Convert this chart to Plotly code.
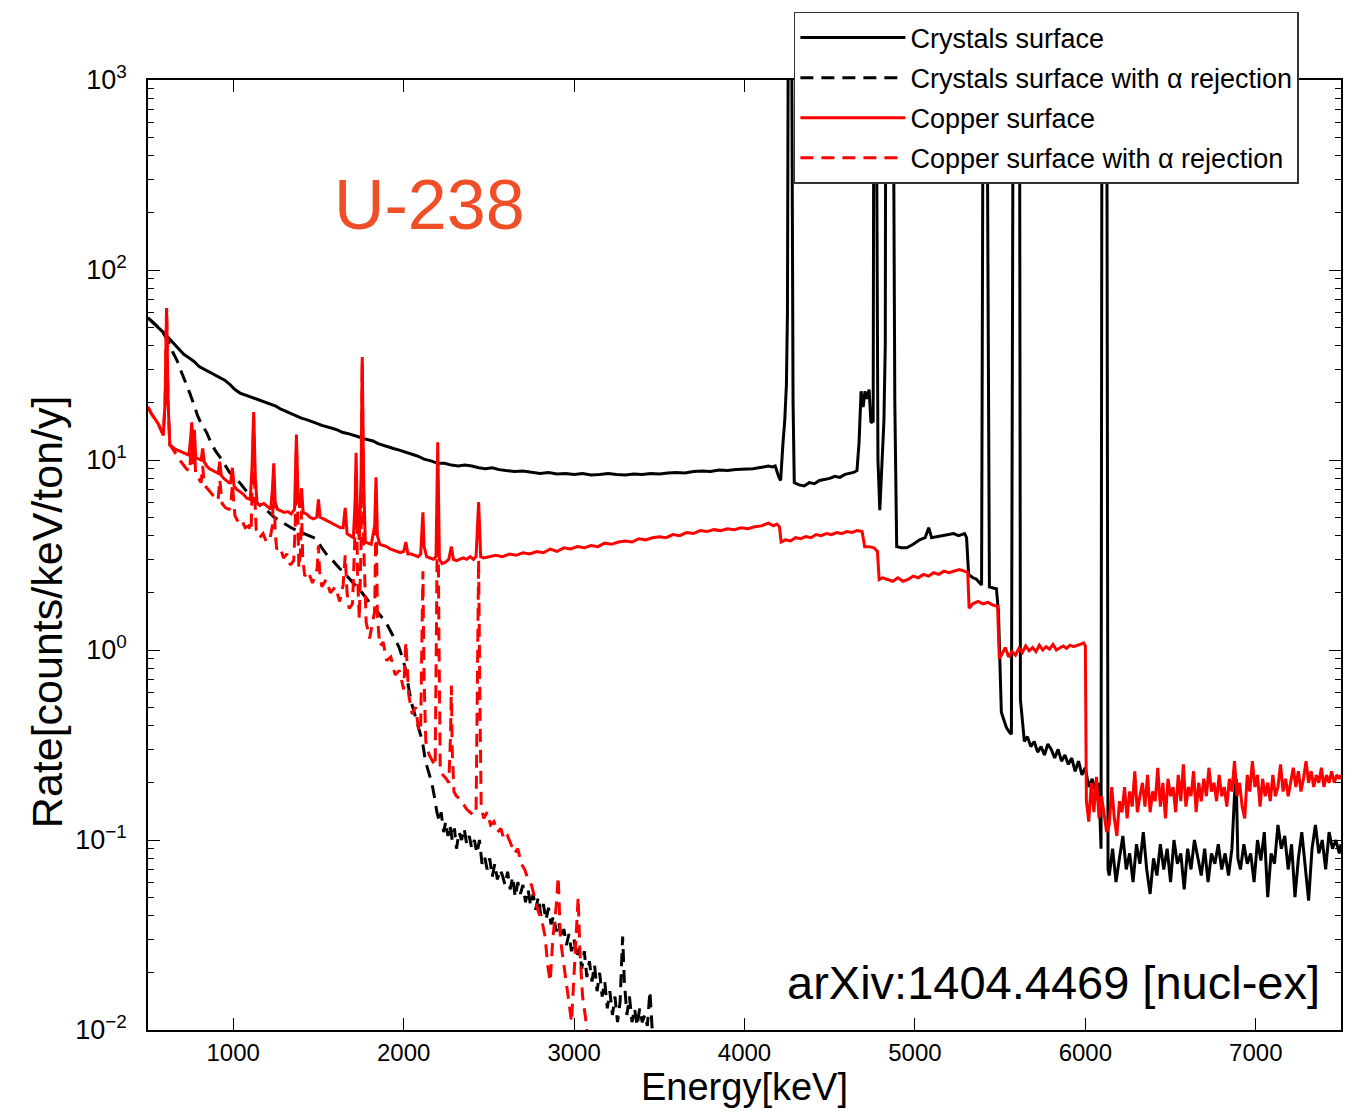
import plotly.graph_objects as go

# ---------------- Crystals surface (solid black) ----------------
crys_E = [500, 530, 560, 590, 620, 650, 680, 710, 740, 770, 800, 830, 860, 890, 920, 950, 980,
          1010, 1040, 1070, 1100, 1130, 1160, 1190, 1220, 1250, 1280, 1310, 1340, 1370, 1400,
          1430, 1460, 1490, 1520, 1550, 1580, 1610, 1640, 1670, 1700, 1730, 1760, 1790, 1820,
          1850, 1880, 1910, 1940, 1970, 2000, 2040, 2080, 2120, 2160, 2200, 2240, 2280, 2320,
          2360, 2400, 2440, 2480, 2520, 2560, 2600, 2650, 2700, 2750, 2800, 2850, 2900, 2950,
          3000, 3050, 3100, 3150, 3200, 3250, 3300, 3350, 3400, 3450, 3500, 3550, 3600, 3650,
          3700, 3750, 3800, 3850, 3900, 3950, 4000, 4050, 4100, 4140, 4165, 4180, 4200, 4212,
          4225, 4236, 4246, 4252, 4258, 4275, 4285, 4292, 4320, 4350, 4380, 4410, 4440, 4470,
          4500, 4530, 4560, 4590, 4620, 4640, 4660, 4672, 4684, 4696, 4707, 4719, 4731, 4742,
          4755, 4760, 4771, 4783, 4794, 4806, 4818, 4826, 4830, 4870, 4882, 4893, 4920, 4952,
          4990, 5028, 5060, 5081, 5098, 5128, 5169, 5200, 5227, 5256, 5291, 5303, 5315, 5340,
          5361, 5391, 5402, 5420, 5437, 5460, 5478, 5490, 5496, 5507, 5525, 5537, 5554, 5566,
          5578, 5613, 5619, 5631, 5642, 5660, 5680, 5700, 5720, 5740, 5760, 5780, 5800, 5820,
          5840, 5860, 5880, 5900, 5920, 5940, 5960, 5980, 6000, 6020, 6040, 6060, 6075, 6085,
          6092, 6098, 6125, 6133, 6140, 6160, 6180, 6200, 6220, 6240, 6260, 6280, 6300, 6320,
          6340, 6360, 6380, 6400, 6420, 6440, 6460, 6480, 6500, 6520, 6540, 6560, 6580, 6600,
          6620, 6640, 6660, 6680, 6700, 6720, 6740, 6760, 6780, 6800, 6820, 6840, 6860, 6875,
          6885, 6895, 6910, 6930, 6950, 6970, 6990, 7010, 7030, 7050, 7070, 7090, 7110, 7130,
          7150, 7170, 7190, 7210, 7230, 7250, 7270, 7290, 7310, 7330, 7350, 7370, 7390, 7410,
          7430, 7450, 7470, 7490, 7500]
crys_R = [56, 53, 50, 47, 44, 41, 38.5, 36, 34.5, 33, 31, 30, 29, 28, 27, 26.3, 25,
          23.5, 22.5, 22, 21.5, 21, 20.5, 20, 19.5, 19.2, 18.5, 18, 17.6, 17, 16.6,
          16.3, 16, 15.6, 15.2, 15, 14.7, 14.4, 14, 13.8, 13.6, 13.3, 13, 12.8, 12.6,
          12.2, 12, 11.8, 11.5, 11.3, 11.1, 10.8, 10.5, 10.1, 9.9, 9.6, 9.6, 9.4, 9.3,
          9.4, 9.3, 9.1, 9.0, 9.1, 8.9, 8.8, 8.7, 8.75, 8.6, 8.5, 8.6, 8.45, 8.5,
          8.4, 8.5, 8.35, 8.4, 8.5, 8.4, 8.35, 8.45, 8.4, 8.5, 8.45, 8.55, 8.6, 8.55,
          8.7, 8.75, 8.7, 8.85, 8.8, 8.9, 8.95, 9.0, 9.15, 9.3, 9.2, 9.3, 8.2, 7.8,
          12, 16, 25, 60, 5000, 5000, 20, 7.6, 7.4, 7.3, 7.6, 7.5, 7.8, 7.9,
          8.0, 8.2, 8.1, 8.4, 8.5, 8.6, 8.8, 12.3, 23, 19, 23, 21, 23.5, 15.7,
          16, 5000, 5000, 10, 5.45, 10, 16, 40, 5000, 5000, 20, 3.5, 3.45, 3.45,
          3.6, 3.8, 3.9, 4.4, 3.9, 3.95, 4.0, 4.05, 4.1, 4.0, 4.1, 3.9, 2.5, 2.4,
          2.36, 2.2, 5000, 5000, 2.15, 2.12, 2.1, 1.6, 1.0, 0.47, 0.42, 0.39, 0.37, 0.36,
          5000, 5000, 0.55, 0.40, 0.33, 0.35, 0.31, 0.33, 0.29, 0.31, 0.28, 0.32, 0.30, 0.27,
          0.30, 0.26, 0.28, 0.25, 0.27, 0.23, 0.26, 0.22, 0.24, 0.19, 0.21, 0.18, 0.2, 0.14,
          0.09, 5000, 5000, 0.07, 0.065, 0.09, 0.06, 0.08, 0.105, 0.07, 0.085, 0.06, 0.095, 0.075,
          0.11, 0.07, 0.052, 0.08, 0.065, 0.095, 0.07, 0.09, 0.06, 0.1, 0.075, 0.085, 0.055, 0.09,
          0.07, 0.1, 0.08, 0.065, 0.09, 0.06, 0.085, 0.075, 0.095, 0.07, 0.085, 0.065, 0.09, 0.17,
          0.21, 0.08, 0.07, 0.095, 0.075, 0.085, 0.06, 0.1, 0.078, 0.11, 0.05, 0.085, 0.075, 0.12,
          0.09, 0.105, 0.07, 0.095, 0.05, 0.08, 0.11, 0.075, 0.048, 0.09, 0.12, 0.085, 0.1, 0.07,
          0.11, 0.09, 0.1, 0.085, 0.095]

# ---------------- Crystals surface with alpha rejection (dashed black) ----------------
crysA_E = [500, 530, 560, 590, 620, 645, 670, 690, 715, 745, 770, 792, 815, 845, 870, 895, 921,
           950, 979, 1008, 1038, 1075, 1113, 1155, 1195, 1240, 1289, 1340, 1388, 1440, 1487,
           1515, 1546, 1585, 1622, 1660, 1698, 1728, 1756, 1785, 1815, 1855, 1896, 1935, 1972,
           1995, 2013, 2031, 2048, 2068, 2089, 2110, 2128, 2147, 2165, 2180, 2195, 2210, 2220,
           2235, 2247, 2260, 2272, 2285, 2298, 2310, 2325, 2340, 2355, 2370, 2385, 2400, 2415,
           2430, 2445, 2460, 2475, 2490, 2505, 2520, 2535, 2550, 2565, 2580, 2595, 2610, 2625,
           2640, 2655, 2670, 2685, 2700, 2715, 2730, 2745, 2760, 2775, 2790, 2805, 2820, 2835,
           2850, 2865, 2880, 2895, 2910, 2925, 2940, 2955, 2970, 2985, 3000, 3015, 3030, 3045,
           3060, 3075, 3090, 3105, 3120, 3135, 3150, 3165, 3180, 3195, 3210, 3225, 3240, 3255,
           3270, 3285, 3295, 3310, 3325, 3340, 3355, 3370, 3385, 3400, 3415, 3430, 3445, 3460,
           3480]
crysA_R = [56, 53, 50, 46.5, 42, 37, 33.5, 30, 26.5, 22.5, 19.5, 17, 15.4, 13.9, 12.3, 11.2, 10.4,
           9.4, 8.6, 8.1, 7.6, 6.9, 6.2, 5.8, 5.45, 5.0, 4.7, 4.4, 4.2, 4.0, 3.85,
           3.5, 3.2, 2.95, 2.7, 2.5, 2.3, 2.15, 2.0, 1.85, 1.7, 1.55, 1.4, 1.2, 1.04,
           0.9, 0.78, 0.62, 0.52, 0.45, 0.38, 0.33, 0.26, 0.23, 0.2, 0.17, 0.14, 0.125, 0.14,
           0.11, 0.125, 0.105, 0.12, 0.1, 0.115, 0.09, 0.11, 0.1, 0.115, 0.095, 0.105, 0.09, 0.1,
           0.085, 0.1, 0.075, 0.082, 0.07, 0.08, 0.064, 0.075, 0.062, 0.07, 0.065, 0.058, 0.068, 0.055,
           0.064, 0.05, 0.06, 0.052, 0.058, 0.047, 0.055, 0.045, 0.052, 0.043, 0.05, 0.04, 0.046, 0.038,
           0.044, 0.036, 0.04, 0.033, 0.037, 0.03, 0.034, 0.028, 0.032, 0.026, 0.03, 0.024, 0.027, 0.021,
           0.026, 0.019, 0.023, 0.018, 0.022, 0.016, 0.02, 0.015, 0.018, 0.013, 0.016, 0.012, 0.015, 0.011,
           0.014, 0.031, 0.018, 0.012, 0.015, 0.011, 0.013, 0.0105, 0.013, 0.011, 0.012, 0.0105, 0.016, 0.0095,
           0.008]

# ---------------- Copper surface (solid red) ----------------
cop_E = [500, 520, 540, 560, 575, 590, 600, 609, 618, 628, 640, 660, 680, 700, 720, 740, 750,
         757, 764, 772, 780, 800, 812, 821, 830, 845, 860, 880, 900, 912, 921, 930, 945, 960,
         975, 985, 995, 1005, 1020, 1040, 1060, 1080, 1100, 1110, 1120, 1130, 1140, 1160, 1180,
         1200, 1220, 1230, 1238, 1246, 1260, 1280, 1300, 1320, 1340, 1360, 1371, 1380, 1390,
         1401, 1410, 1430, 1450, 1470, 1490, 1500, 1510, 1530, 1550, 1570, 1590, 1610, 1630,
         1645, 1657, 1668, 1690, 1705, 1715, 1721, 1728, 1740, 1750, 1757, 1765, 1775, 1790,
         1810, 1830, 1838, 1846, 1860, 1880, 1900, 1920, 1940, 1960, 1980, 2000, 2013, 2025,
         2045, 2065, 2085, 2100, 2106, 2113, 2120, 2135, 2155, 2175, 2190, 2200, 2210, 2225,
         2245, 2265, 2280, 2292, 2310, 2330, 2350, 2370, 2390, 2410, 2425, 2440, 2452, 2470,
         2500, 2540, 2580, 2620, 2660, 2700, 2740, 2780, 2820, 2860, 2900, 2940, 2980, 3020,
         3060, 3100, 3140, 3180, 3220, 3260, 3300, 3340, 3380, 3420, 3460, 3500, 3540, 3580,
         3620, 3660, 3700, 3740, 3780, 3820, 3860, 3900, 3940, 3980, 4020, 4060, 4100, 4140,
         4170, 4190, 4205, 4215, 4240, 4270, 4300, 4330, 4360, 4390, 4420, 4450, 4480, 4510,
         4540, 4570, 4600, 4630, 4660, 4690, 4705, 4730, 4760, 4780, 4790, 4810, 4840, 4870,
         4900, 4930, 4960, 4990, 5020, 5050, 5080, 5110, 5140, 5170, 5200, 5230, 5260, 5290,
         5310, 5318, 5340, 5370, 5400, 5430, 5460, 5485, 5495, 5510, 5530, 5550, 5570, 5590,
         5610, 5630, 5650, 5670, 5690, 5710, 5730, 5750, 5770, 5790, 5810, 5830, 5850, 5870,
         5890, 5910, 5930, 5950, 5970, 5990, 6000, 6006, 6020, 6035, 6050, 6065, 6080, 6095,
         6110, 6125, 6140, 6155, 6170, 6185, 6200, 6215, 6230, 6245, 6260, 6275, 6290, 6305,
         6320, 6335, 6350, 6365, 6380, 6395, 6410, 6425, 6440, 6455, 6470, 6485, 6500, 6515,
         6530, 6545, 6560, 6575, 6590, 6605, 6620, 6635, 6650, 6665, 6680, 6695, 6710, 6725,
         6740, 6755, 6770, 6785, 6800, 6815, 6830, 6845, 6860, 6875, 6890, 6905, 6920, 6935,
         6950, 6965, 6980, 6995, 7010, 7025, 7040, 7055, 7070, 7085, 7100, 7115, 7130, 7145,
         7160, 7175, 7190, 7205, 7220, 7235, 7250, 7265, 7280, 7295, 7310, 7325, 7340, 7355,
         7370, 7385, 7400, 7415, 7430, 7445, 7460, 7475, 7490, 7500]
cop_R = [19, 17.5, 16.5, 15.5, 14.5, 13.5, 20, 63, 20, 12, 11.8, 11.4, 11.2, 11.0, 10.8, 10.6, 13,
         15.8, 11.5, 14.4, 10.3, 10.1, 10, 11.5, 9.8, 9.3, 9.0, 8.8, 8.6, 8.5, 9.8, 8.3, 8.0, 7.8,
         7.6, 7.6, 9.1, 7.3, 7.0, 6.8, 6.6, 6.3, 6.2, 9, 17.9, 8, 5.9, 5.8, 5.9,
         5.7, 5.5, 7, 9.6, 6, 5.5, 5.4, 5.3, 5.35, 5.2, 5.5, 13.6, 6.5, 5.6,
         7.1, 5.3, 5.2, 5.0, 4.9, 5.0, 6.2, 5.0, 4.9, 4.8, 4.7, 4.6, 4.5, 4.4,
         4.4, 5.6, 4.1, 4.0, 3.9, 6, 10.9, 5, 3.8, 8, 34.8, 8, 3.7, 3.65,
         3.6, 4.5, 8.1, 4, 3.6, 3.55, 3.5, 3.4, 3.35, 3.3, 3.25, 3.3, 3.7, 3.2,
         3.2, 3.15, 3.1, 3.2, 4.5, 5.3, 3.5, 3.1, 3.05, 3.0, 3.1, 12.4, 3.0, 2.85,
         2.9, 3.0, 3.5, 3.0, 2.95, 3.0, 3.05, 3.0, 3.1, 3.0, 3.1, 6.0, 3.1, 3.05,
         3.1, 3.15, 3.1, 3.2, 3.15, 3.25, 3.2, 3.3, 3.25, 3.4, 3.3, 3.45, 3.4, 3.5,
         3.45, 3.55, 3.5, 3.65, 3.6, 3.7, 3.75, 3.7, 3.85, 3.8, 3.9, 3.95, 3.9, 4.05,
         4.0, 4.15, 4.1, 4.25, 4.2, 4.3, 4.25, 4.35, 4.3, 4.4, 4.35, 4.45, 4.5, 4.65,
         4.5, 4.6, 4.45, 3.7, 3.8, 3.75, 3.9, 3.85, 3.95, 3.9, 4.05, 4.0, 4.1, 4.05,
         4.15, 4.1, 4.2, 4.15, 4.25, 4.2, 3.5, 3.5, 3.45, 3.3, 2.35, 2.4, 2.35, 2.3,
         2.4, 2.3, 2.35, 2.45, 2.4, 2.5, 2.45, 2.55, 2.5, 2.6, 2.55, 2.6, 2.65, 2.6,
         2.55, 1.66, 1.75, 1.8, 1.75, 1.78, 1.72, 1.7, 0.9, 0.95, 1.03, 0.92, 0.98, 0.94,
         1.02, 0.97, 1.05, 0.99, 1.03, 0.98, 1.06, 1.0, 1.04, 1.01, 1.07, 1.0, 1.03, 1.05,
         1.02, 1.06, 1.04, 1.05, 1.07, 1.09, 1.05, 0.16, 0.125, 0.2, 0.14, 0.215, 0.13, 0.17,
         0.14, 0.11, 0.12, 0.19, 0.13, 0.105, 0.16, 0.14, 0.19, 0.13, 0.18, 0.15, 0.23, 0.14,
         0.17, 0.2, 0.15, 0.22, 0.14, 0.18, 0.16, 0.24, 0.15, 0.2, 0.13, 0.21, 0.17, 0.19,
         0.14, 0.22, 0.16, 0.25, 0.15, 0.19, 0.17, 0.23, 0.14, 0.2, 0.16, 0.21, 0.17, 0.24,
         0.18, 0.2, 0.16, 0.22, 0.17, 0.19, 0.15, 0.21, 0.18, 0.26, 0.17, 0.2, 0.15, 0.13,
         0.22, 0.18, 0.26, 0.19, 0.22, 0.15, 0.21, 0.17, 0.2, 0.16, 0.22, 0.17, 0.19, 0.25,
         0.18, 0.21, 0.17, 0.2, 0.24, 0.19, 0.23, 0.18, 0.21, 0.26, 0.2, 0.23, 0.19, 0.22,
         0.2, 0.24, 0.19, 0.22, 0.2, 0.23, 0.2, 0.22, 0.21, 0.22]

# ---------------- Copper surface with alpha rejection (dashed red) ----------------
copA_E = [500, 520, 540, 560, 575, 590, 600, 609, 618, 628, 646, 670, 690, 705, 725, 745, 750,
          757, 764, 772, 780, 800, 812, 821, 830, 850, 870, 890, 905, 912, 921, 935, 955, 975,
          985, 995, 1010, 1030, 1050, 1070, 1090, 1105, 1112, 1120, 1128, 1135, 1155, 1175, 1195,
          1215, 1230, 1238, 1246, 1255, 1275, 1295, 1315, 1335, 1355, 1364, 1371, 1378, 1385,
          1394, 1401, 1408, 1420, 1440, 1465, 1480, 1493, 1500, 1507, 1520, 1545, 1570, 1600,
          1625, 1645, 1657, 1668, 1680, 1700, 1712, 1721, 1730, 1740, 1750, 1757, 1764, 1780,
          1800, 1830, 1838, 1846, 1860, 1880, 1900, 1925, 1950, 1975, 2000, 2013, 2030, 2050,
          2070, 2090, 2100, 2106, 2113, 2120, 2130, 2150, 2170, 2185, 2193, 2200, 2207, 2215,
          2230, 2250, 2265, 2275, 2280, 2285, 2295, 2310, 2330, 2350, 2370, 2390, 2410, 2425,
          2433, 2440, 2447, 2455, 2470, 2490, 2510, 2530, 2550, 2570, 2590, 2610, 2630, 2650,
          2670, 2690, 2710, 2730, 2750, 2770, 2790, 2810, 2830, 2845, 2860, 2875, 2895, 2907,
          2920, 2940, 2955, 2970, 2985, 3000, 3012, 3024, 3035, 3050, 3065, 3080, 3095]
copA_R = [19, 17.5, 16.5, 15.5, 14.5, 13.5, 20, 63, 20, 12, 11.4, 10.5, 9.9, 9.5, 9.0, 8.7, 11,
          14, 9.5, 12.5, 8.2, 7.9, 7.6, 9.3, 7.4, 7.0, 6.7, 6.4, 6.1, 6.3, 7.9, 5.9, 5.6, 5.5,
          5.6, 7.5, 5.1, 4.7, 4.85, 4.4, 4.5, 4.2, 7, 16.8, 6, 4.3, 3.9, 4.1, 3.7,
          3.8, 4.5, 8.4, 4.2, 3.4, 3.5, 3.05, 3.2, 2.8, 2.95, 4.5, 11.9, 4.2, 2.7,
          3.2, 5.4, 3.0, 2.45, 2.6, 2.25, 2.45, 2.7, 3.55, 2.6, 2.15, 2.35, 2.0, 2.15,
          1.8, 2.2, 3.15, 2.0, 1.65, 1.75, 3.5, 8.6, 2.4, 1.45, 3.5, 32.5, 4, 1.4,
          1.15, 1.6, 5.65, 1.5, 1.05, 1.1, 0.88, 0.92, 0.74, 0.78, 0.62, 1.1, 0.58, 0.46,
          0.5, 0.37, 0.4, 1.2, 2.6, 0.7, 0.33, 0.28, 0.26, 0.245, 1.5, 9.6, 1.2, 0.23,
          0.22, 0.21, 0.2, 0.35, 0.65, 0.3, 0.18, 0.17, 0.165, 0.155, 0.145, 0.14, 0.135, 0.14,
          0.8, 3.0, 0.6, 0.15, 0.13, 0.14, 0.12, 0.125, 0.11, 0.115, 0.1, 0.105, 0.095, 0.085,
          0.09, 0.075, 0.07, 0.062, 0.058, 0.05, 0.042, 0.038, 0.031, 0.022, 0.018, 0.03, 0.045, 0.064,
          0.03, 0.022, 0.017, 0.014, 0.011, 0.02, 0.03, 0.05, 0.025, 0.015, 0.012, 0.009, 0.007]

series_names = [
    "Crystals surface",
    "Crystals surface with α rejection",
    "Copper surface",
    "Copper surface with α rejection",
]
x_ticks = [1000, 2000, 3000, 4000, 5000, 6000, 7000]
y_ticks = [0.01, 0.1, 1, 10, 100, 1000]
y_tick_text = ["10<sup>\u22122</sup>", "10<sup>\u22121</sup>", "10<sup>0</sup>",
               "10<sup>1</sup>", "10<sup>2</sup>", "10<sup>3</sup>"]

FONT = "Liberation Sans, Arial, Helvetica, sans-serif"
LW = 3
DASH = "13px,8px"

fig = go.Figure()
traces = [
    (crys_E, crys_R, "black", None),
    (crysA_E, crysA_R, "black", DASH),
    (cop_E, cop_R, "red", None),
    (copA_E, copA_R, "red", DASH),
]
for i, (xs, ys, color, dash) in enumerate(traces):
    fig.add_trace(go.Scatter(
        x=xs, y=ys, mode="lines", name=series_names[i], legendgroup=f"g{i}",
        line=dict(color=color, width=LW, dash=dash) if dash else dict(color=color, width=LW),
    ))

fig.update_layout(
    width=1345, height=1112,
    margin=dict(l=148, r=2, t=80, b=82),
    paper_bgcolor="white", plot_bgcolor="white",
    font=dict(family=FONT, color="black", size=24),
    showlegend=True,
    legend=dict(
        x=0.5414, y=1.0716, xanchor="left", yanchor="top",
        bgcolor="white", bordercolor="#333333", borderwidth=1.5,
        font=dict(family=FONT, size=27, color="black"),
        itemwidth=105, tracegroupgap=2,
    ),
    xaxis=dict(
        range=[500, 7500], tickvals=x_ticks, ticktext=[str(v) for v in x_ticks],
        ticks="inside", ticklen=12, tickwidth=1.2, tickcolor="black",
        showline=True, linecolor="black", linewidth=1.5, mirror="ticks",
        showgrid=False, zeroline=False,
        tickfont=dict(family=FONT, size=24),
        title=dict(text="Energy[keV]", font=dict(family=FONT, size=38), standoff=6),
    ),
    yaxis=dict(
        type="log", range=[-2, 3], tickvals=y_ticks, ticktext=y_tick_text,
        ticks="inside", ticklen=12, tickwidth=1.2, tickcolor="black",
        showline=True, linecolor="black", linewidth=1.5, mirror="allticks",
        showgrid=False, zeroline=False,
        tickfont=dict(family=FONT, size=27), ticklabelstandoff=14,
        minor=dict(ticks="inside", ticklen=6, tickwidth=1, tickcolor="black",
                   dtick="D1", showgrid=False),
    ),
    annotations=[
        dict(text="Rate[counts/keV/ton/y]", xref="paper", yref="paper",
             x=(47 - 148) / 1195, y=(1030 - 612) / 950, textangle=-90,
             showarrow=False, xanchor="center", yanchor="middle",
             font=dict(family=FONT, size=43, color="black")),
        dict(text="U-238", xref="paper", yref="paper",
             x=(430 - 148) / 1195, y=(1030 - 205) / 950,
             showarrow=False, xanchor="center", yanchor="middle",
             font=dict(family=FONT, size=70, color="rgb(240,78,38)")),
        dict(text="arXiv:1404.4469 [nucl-ex]", xref="paper", yref="paper",
             x=(1055 - 148) / 1195, y=(1030 - 982) / 950,
             showarrow=False, xanchor="center", yanchor="middle",
             font=dict(family=FONT, size=47, color="black")),
    ],
)

fig.write_html("out.html")
